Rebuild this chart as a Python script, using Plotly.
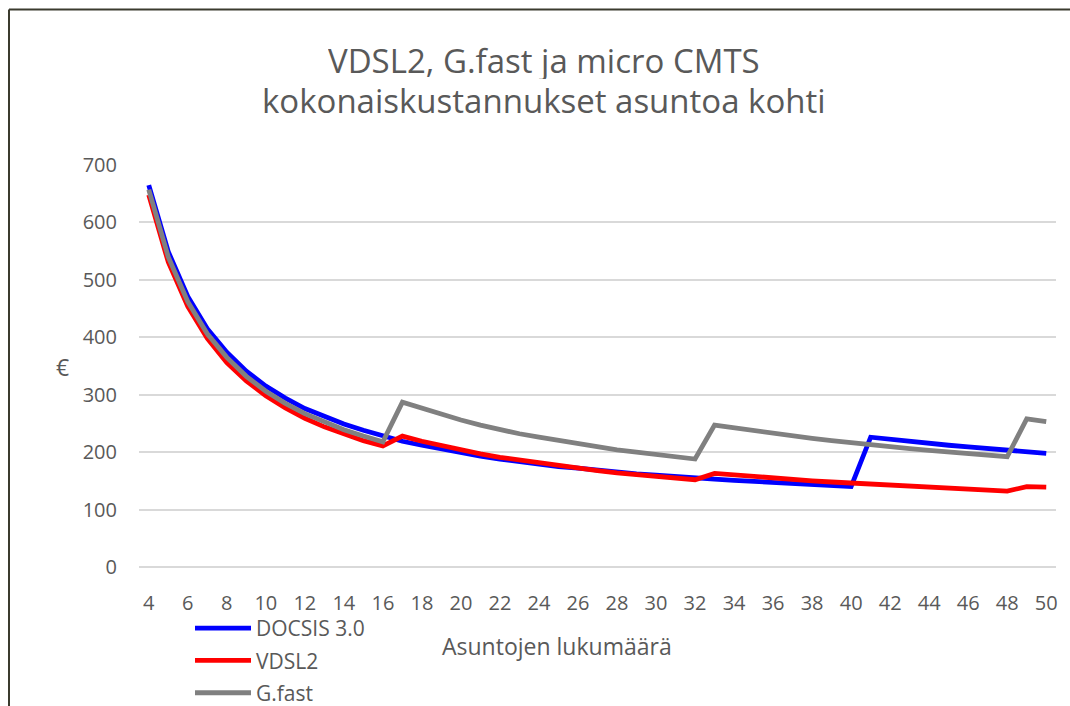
import plotly.graph_objects as go

# asuntojen lukumäärä
asunnot = list(range(4, 51))

docsis = [665, 549, 471, 415, 374, 341, 315, 294, 276, 262, 249, 238, 228,
          219, 212, 205, 199, 193, 188, 183, 179, 175, 172, 168, 165, 162,
          160, 157, 155, 153, 151, 149, 147, 145, 143, 142, 140,
          226, 222, 218, 215, 212, 209, 206, 203, 200, 198]

vdsl2 = [648, 531, 454, 398, 356, 324, 298, 277, 259, 244, 232, 220, 211,
         228, 219, 211, 204, 197, 191, 186, 181, 176, 172, 168, 164, 161,
         158, 155, 152,
         163, 160, 158, 155, 152, 150, 148, 146, 144, 142, 140, 138, 137,
         135, 134, 132, 140, 139]

gfast = [657, 540, 462, 406, 365, 332, 306, 285, 267, 252, 239, 228, 218,
         287, 276, 265, 256, 247, 239, 232, 226, 220, 214, 209, 204, 200,
         196, 192, 188,
         247, 242, 237, 232, 228, 224, 220, 216, 213, 209, 206, 203, 200,
         197, 195, 192, 258, 253]

sarjat = [("DOCSIS 3.0", docsis, "#0000ff"),
          ("VDSL2", vdsl2, "#ff0000"),
          ("G.fast", gfast, "#808080")]

FONT = "Open Sans, Carlito, sans-serif"
GREY = "#595959"

fig = go.Figure()
for i, (nimi, arvot, vari) in enumerate(sarjat):
    fig.add_trace(go.Scatter(x=asunnot, y=arvot, mode="lines", name=nimi,
                             line=dict(color=vari, width=4.8),
                             legendgroup=str(i)))

FW, FH = 1070, 706
# piirtoalue: x 139..1056, y 165..567
L, R, T, B = 139, 1056, 165, 567
W, H = R - L, B - T

def px(x):
    return (x - L) / W

def py(y):
    return (B - y) / H

fig.update_layout(
    width=FW, height=FH,
    margin=dict(l=L, r=FW - R, t=T, b=FH - B, autoexpand=False),
    paper_bgcolor="white", plot_bgcolor="white",
    font=dict(family=FONT, color=GREY, size=20),
    showlegend=True,
    legend=dict(x=px(190), y=py(608), xanchor="left", yanchor="top",
                font=dict(size=21, color=GREY), tracegroupgap=2,
                itemwidth=56, bgcolor="rgba(0,0,0,0)"),
    xaxis=dict(range=[3.5, 50.5], tick0=4, dtick=2, showgrid=False,
               zeroline=False, showline=False, ticks="",
               ticklabelstandoff=22,
               tickfont=dict(size=20, color=GREY)),
    yaxis=dict(range=[0, 700], dtick=100, showgrid=True,
               gridcolor="#d9d9d9", gridwidth=1.5, zeroline=True,
               zerolinecolor="#d9d9d9", zerolinewidth=1.5, showline=False,
               ticks="", ticklabelstandoff=21,
               tickfont=dict(size=20, color=GREY)),
)

def teksti(t, x, y, koko, korkeus=None):
    fig.add_annotation(text=t, x=px(x), y=py(y), xref="paper", yref="paper",
                       xanchor="center", yanchor="middle", showarrow=False,
                       height=korkeus, font=dict(size=koko, color=GREY))

teksti("VDSL2, G.fast ja micro CMTS", 544, 60, 33, 38)
teksti("kokonaiskustannukset asuntoa kohti", 544, 100, 33, 38)
teksti("Asuntojen lukumäärä", 557, 646, 23)
teksti("€", 62, 367, 23)

# kehys
fig.add_shape(type="line", xref="paper", yref="paper", x0=px(9), x1=px(1070),
              y0=py(9.5), y1=py(9.5), line=dict(color="#3b3b2e", width=2))
fig.add_shape(type="line", xref="paper", yref="paper", x0=px(9), x1=px(9),
              y0=py(9.5), y1=py(706), line=dict(color="#3b3b2e", width=2))

fig.write_html("out.html", config={"displayModeBar": False},
               post_script="document.body.style.margin='0';"
                           "document.documentElement.style.overflow='hidden';"
                           "document.body.style.overflow='hidden';")
